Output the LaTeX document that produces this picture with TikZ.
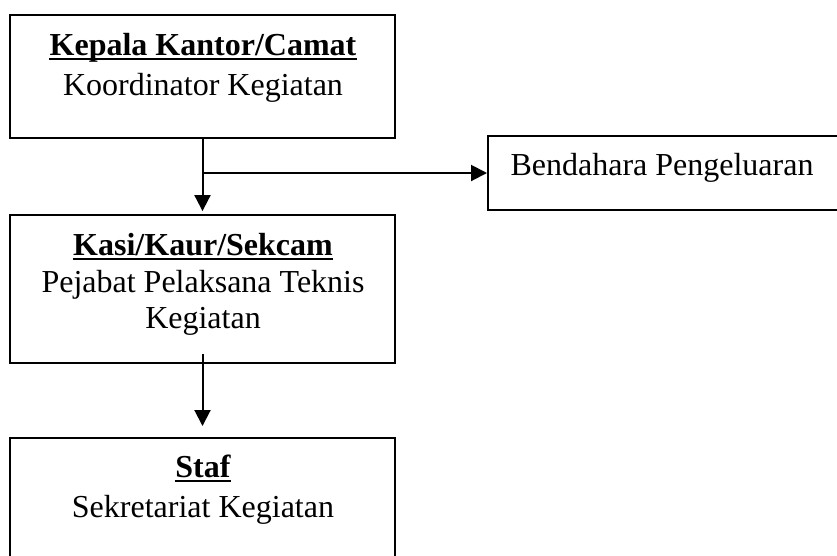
\documentclass[tikz,border=0pt]{standalone}
\usepackage{fontspec}
\setmainfont{Liberation Serif}
\usetikzlibrary{arrows.meta}
\begin{document}
\begin{tikzpicture}[x=0.375pt,y=-0.375pt,
  box/.style={draw,line width=0.75pt,inner sep=0pt},
  txt/.style={anchor=base,inner sep=0pt,font=\fontsize{12pt}{13.8pt}\selectfont},
  ttl/.style={txt,font=\fontsize{12pt}{13.8pt}\selectfont\bfseries},
  uline/.style={line width=0.8pt},
  arr/.style={line width=0.75pt,-{Triangle[width=6pt,length=6pt]}},
  conn/.style={line width=0.75pt}]
\useasboundingbox (0,0) rectangle (837,555);
\clip (0,0) rectangle (837,555);
% boxes
\node[box,minimum width=144.375pt,minimum height=46.125pt] (b1) at (202.5,76.5) {};
\node[box,minimum width=154.5pt,minimum height=27.75pt] (b2) at (694,173) {};
\node[box,minimum width=144.375pt,minimum height=55.5pt] (b3) at (202.5,289) {};
\node[box,minimum width=144.375pt,minimum height=60.75pt] (b4) at (202.5,519) {};
% texts
\node[ttl] (t1a) at (203,55) {Kepala Kantor/Camat};
\node[txt] (t1b) at (203,95) {Koordinator Kegiatan};
\node[txt,anchor=base west] (t2) at (510,175) {Bendahara Pengeluaran};
\node[ttl] (t3a) at (203,255) {Kasi/Kaur/Sekcam};
\node[txt] (t3b) at (203,292) {Pejabat Pelaksana Teknis};
\node[txt] (t3c) at (203,328) {Kegiatan};
\node[ttl] (t4a) at (203,477) {Staf};
\node[txt] (t4b) at (203,517) {Sekretariat Kegiatan};
% underlines
\foreach \t in {t1a,t3a,t4a}
  \draw[uline] ([yshift=-1.6pt]\t.base west) -- ([yshift=-1.6pt]\t.base east);
% connectors
\draw[arr,shorten >=1.1pt] (b1.south) -- (b3.north);
\coordinate (br) at (b1.south |- b2.west);
\draw[arr] (br) -- (b2.west);
\draw[arr] ([yshift=3.75pt]b3.south) -- ([yshift=4.125pt]b4.north);
\end{tikzpicture}
\end{document}
